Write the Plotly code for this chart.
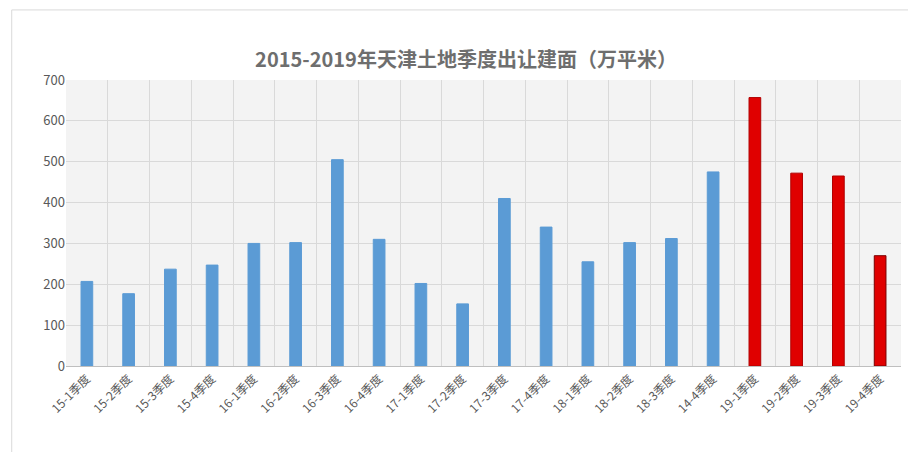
import plotly.graph_objects as go

quarters = ["15-1季度", "15-2季度", "15-3季度", "15-4季度", "16-1季度", "16-2季度", "16-3季度",
            "16-4季度", "17-1季度", "17-2季度", "17-3季度", "17-4季度", "18-1季度", "18-2季度",
            "18-3季度", "14-4季度", "19-1季度", "19-2季度", "19-3季度", "19-4季度"]
area = [207, 177, 237, 247, 300, 302, 505, 310, 202, 152, 410, 340, 255, 302, 312, 475,
        657, 472, 465, 270]

colors = ["#5b9bd5"] * 16 + ["#e00000"] * 4
lines = ["#5b9bd5"] * 16 + ["#b00000"] * 3 + ["#7a0000"]

fig = go.Figure(go.Bar(x=quarters, y=area, marker=dict(color=colors, line=dict(color=lines, width=1))))

fig.update_layout(
    width=916, height=452,
    title=dict(text="<b>2015-2019年天津土地季度出让建面（万平米）</b>", x=0.5, y=0.9,
               font=dict(size=20, color="#6e6e6e", family="Noto Sans CJK SC")),
    font=dict(family="Noto Sans CJK SC", size=12, color="#595959"),
    paper_bgcolor="white", plot_bgcolor="#f3f3f3",
    margin=dict(l=58, r=23, t=72, b=94),
    bargap=0.72, showlegend=False,
    xaxis=dict(tickangle=-45, showgrid=True, gridcolor="#d9d9d9", linecolor="#bfbfbf",
               tickson="boundaries", ticks="", tickfont=dict(size=12)),
    yaxis=dict(range=[0, 700], dtick=100, gridcolor="#d9d9d9", zeroline=False,
               tickfont=dict(size=13)),
)
fig.add_shape(type="rect", xref="paper", yref="paper", x0=-0.065, x1=1.022, y0=-0.32, y1=1.245,
              line=dict(color="#d9d9d9", width=1))
fig.write_html("out.html")
